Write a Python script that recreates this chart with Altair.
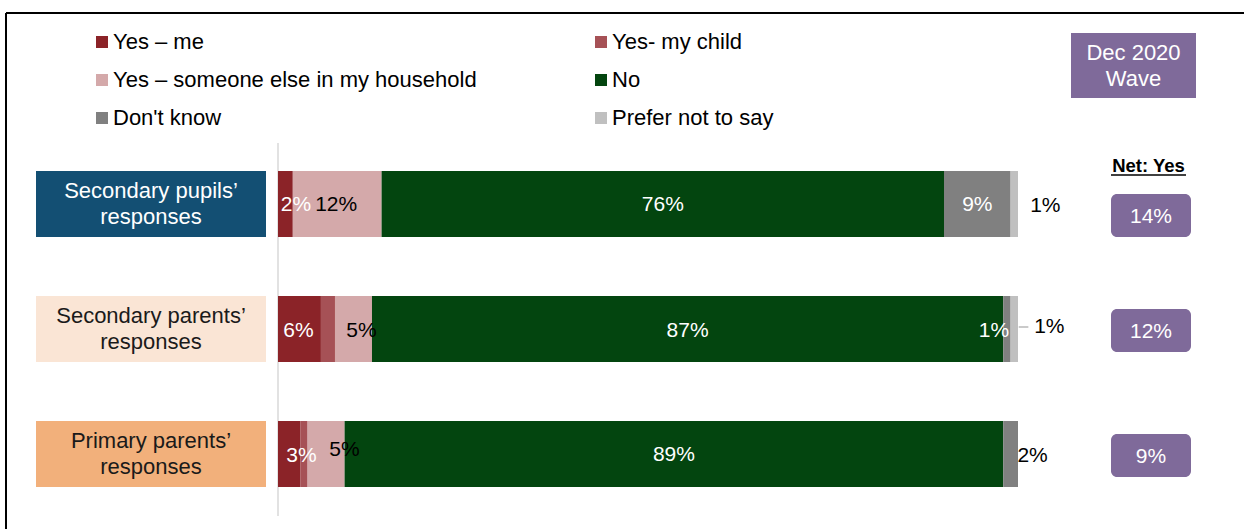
import altair as alt
import pandas as pd

# ---------------- data ----------------
groups = ["Secondary pupils’ responses", "Secondary parents’ responses", "Primary parents’ responses"]
group_text = ["Secondary pupils’\nresponses", "Secondary parents’\nresponses", "Primary parents’\nresponses"]
answers = ["Yes – me", "Yes- my child", "Yes – someone else in my household",
           "No", "Don't know", "Prefer not to say"]

# segment shares (%) in answer order
pupils = [2, 0, 12, 76, 9, 1]
sec_parents = [5.8, 1.9, 5.0, 85.3, 1.0, 1.0]
pri_parents = [3, 1, 5, 89, 2, 0]

# labels shown on the segments
pupils_labels = ["2%", "", "12%", "76%", "9%", "1%"]
sec_parents_labels = ["6%", "", "5%", "87%", "1%", "1%"]
pri_parents_labels = ["3%", "", "5%", "89%", "2%", ""]

net_yes = ["14%", "12%", "9%"]

# ---------------- styles ----------------
FONT = "Liberation Sans"
answer_colors = ["#8b2328", "#a65156", "#d4a9aa", "#03450f", "#808080", "#c0c0c0"]
box_fill = ["#134f73", "#fae5d5", "#f2b07b"]
box_text = ["#ffffff", "#1a1a1a", "#1a1a1a"]
PURPLE = "#7f6a9a"

X0, X1 = 278, 1018
PX = (X1 - X0) / 100.0
xscale = alt.Scale(domain=[0, 100], range=[X0, X1], nice=False, zero=False)
yscale = alt.Scale(domain=groups, range=[141.5, 516.5], paddingInner=0.472, paddingOuter=0.236)

# legend fills column by column: order entries so rows read left-to-right
legend_order = [answers[0], answers[2], answers[4], answers[1], answers[3], answers[5]]

# label colour + nudge (px) per (group, answer)
label_color_default = ["#ffffff", "#ffffff", "#000000", "#ffffff", "#ffffff", "#000000"]
label_color_override = {(2, 4): "#000000"}
nudges = {
    (0, 0): (10.6, 1), (0, 2): (-1, 1), (0, 3): (0, 1), (0, 4): (0, 1), (0, 5): (31, 2),
    (1, 0): (-1, 2), (1, 2): (8, 2), (1, 3): (0, 2), (1, 4): (-13, 2), (1, 5): (35, -2),
    (2, 0): (12.4, 2), (2, 2): (18.4, -4), (2, 3): (0, 1), (2, 4): (22, 2),
}

seg_rows, lab_rows = [], []
for gi, (g, vals, labs) in enumerate(zip(groups, [pupils, sec_parents, pri_parents],
                                         [pupils_labels, sec_parents_labels, pri_parents_labels])):
    start = 0.0
    for ai, (a, v, t) in enumerate(zip(answers, vals, labs)):
        end = start + v
        if v > 0:
            seg_rows.append(dict(group=g, answer=a, start=start, end=end))
        if t:
            dx, dy = nudges.get((gi, ai), (0, 0))
            lab_rows.append(dict(group=g, text=t, x=(start + end) / 2 + dx / PX, dy=dy,
                                 col=label_color_override.get((gi, ai), label_color_default[ai])))
        start = end
seg = pd.DataFrame(seg_rows)
labs = pd.DataFrame(lab_rows)
one = pd.DataFrame({"a": [0]})
cats = pd.DataFrame({"group": groups, "txt": group_text, "fill": box_fill, "tc": box_text})
net = pd.DataFrame({"group": groups, "txt": net_yes})

Y = alt.Y("group:N", scale=yscale, axis=None)

# frame
frame_top = alt.Chart(one).mark_rule(color="#000", strokeWidth=2).encode(
    x=alt.value(6), x2=alt.value(1244), y=alt.value(13))
frame_left = alt.Chart(one).mark_rule(color="#000", strokeWidth=2).encode(
    x=alt.value(6), y=alt.value(13), y2=alt.value(529))

# category boxes
cat_box = alt.Chart(cats).mark_rect().encode(
    x=alt.value(36), x2=alt.value(266), y=Y,
    fill=alt.Fill("fill:N", scale=None))
cat_txt = alt.Chart(cats).mark_text(font=FONT, fontSize=22, lineBreak="\n", lineHeight=26,
                                    dy=-13, baseline="middle").encode(
    x=alt.value(151), y=Y, text="txt:N", fill=alt.Fill("tc:N", scale=None))

# axis line
axis_line = alt.Chart(one).mark_rule(color="#d9d9d9", strokeWidth=1.5).encode(
    x=alt.X("a:Q", scale=xscale, axis=None), y=alt.value(143), y2=alt.value(516))

# bars
bars = alt.Chart(seg).mark_bar().encode(
    x=alt.X("start:Q", scale=xscale, axis=None), x2="end:Q", y=Y,
    color=alt.Color("answer:N", scale=alt.Scale(domain=answers, range=answer_colors),
                    legend=alt.Legend(title=None, orient="none", legendX=91, legendY=31,
                                      columns=2, columnPadding=113, rowPadding=16,
                                      values=legend_order,
                                      symbolType="square", symbolSize=144, symbolStrokeWidth=0,
                                      labelFont=FONT, labelFontSize=22, labelColor="#000",
                                      labelOffset=0, labelLimit=600, padding=0)))

# leader line for the small outside label
leader = alt.Chart(pd.DataFrame({"group": [groups[1]], "s": [100.1], "e": [101.4]})).mark_rule(
    color="#a6a6a6", strokeWidth=1.2, yOffset=-2).encode(
    x=alt.X("s:Q", scale=xscale, axis=None), x2="e:Q", y=Y)

label_layers = []
for dy in sorted(labs["dy"].unique()):
    label_layers.append(
        alt.Chart(labs[labs["dy"] == dy]).mark_text(font=FONT, fontSize=21, dy=float(dy)).encode(
            x=alt.X("x:Q", scale=xscale, axis=None), y=Y, text="text:N",
            fill=alt.Fill("col:N", scale=None)))

# Net: Yes column
net_head = alt.Chart(one).mark_text(font=FONT, fontSize=18.5, fontWeight="bold", color="#000").encode(
    x=alt.value(1148.5), y=alt.value(166), text=alt.value("Net: Yes"))
net_ul = alt.Chart(one).mark_rule(color="#000", strokeWidth=1.5).encode(
    x=alt.value(1111), x2=alt.value(1186), y=alt.value(175))
net_box1 = alt.Chart(net.iloc[:1]).mark_bar(size=43, cornerRadius=6, color=PURPLE, yOffset=11.5).encode(
    x=alt.value(1111), x2=alt.value(1191), y=Y)
net_box2 = alt.Chart(net.iloc[1:]).mark_bar(size=43, cornerRadius=6, color=PURPLE, yOffset=1.5).encode(
    x=alt.value(1111), x2=alt.value(1191), y=Y)
net_t1 = alt.Chart(net.iloc[:1]).mark_text(font=FONT, fontSize=21, color="#fff", dy=12.5).encode(
    x=alt.value(1151), y=Y, text="txt:N")
net_t2 = alt.Chart(net.iloc[1:]).mark_text(font=FONT, fontSize=21, color="#fff", dy=2.5).encode(
    x=alt.value(1151), y=Y, text="txt:N")

# wave badge
wave_box = alt.Chart(one).mark_rect(color=PURPLE).encode(
    x=alt.value(1071), x2=alt.value(1196), y=alt.value(33), y2=alt.value(98))
wave_txt = alt.Chart(one).mark_text(font=FONT, fontSize=22, color="#fff", lineBreak="\n",
                                    lineHeight=26).encode(
    x=alt.value(1133.5), y=alt.value(52.5), text=alt.value("Dec 2020\nWave"))

chart = alt.layer(
    frame_top, frame_left, cat_box, cat_txt, axis_line, bars, leader, *label_layers,
    net_head, net_ul, net_box1, net_box2, net_t1, net_t2, wave_box, wave_txt
).properties(
    width=1244, height=529, padding=0, autosize=alt.AutoSizeParams(type="none"),
    background="white"
).resolve_scale(fill="independent").configure_view(stroke=None)

chart.save("out.html", embed_options={"renderer": "svg", "actions": False})
